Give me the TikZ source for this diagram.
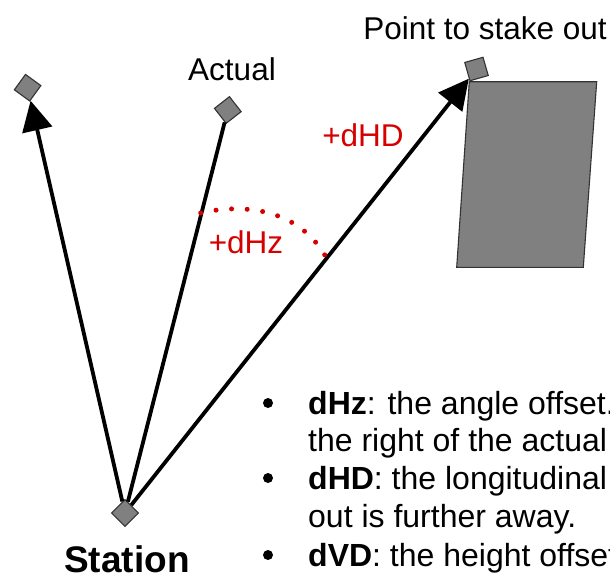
\documentclass[tikz,border=0pt]{standalone}
\usepackage{fontspec}
\setmainfont{Liberation Sans}
\usetikzlibrary{arrows.meta,positioning}
\definecolor{offred}{RGB}{214,0,0}
\definecolor{pegfill}{RGB}{128,128,128}

\begin{document}
\begin{tikzpicture}[x=1pt,y=-1pt]
\useasboundingbox (0,0) rectangle (610,579);
\clip (0,0) rectangle (610,579);
\tikzstyle{peg}=[rectangle, draw=black!80, fill=pegfill, line width=1.1pt, minimum size=19pt, inner sep=0pt]
\tikzstyle{lbl}=[font=\fontsize{31.5}{37}\selectfont, anchor=base, inner sep=0pt]
\tikzstyle{blt}=[font=\fontsize{32}{38}\selectfont, anchor=base west, inner sep=0pt]
\tikzstyle{ray}=[line width=3.8pt]
\tikzstyle{shot}=[-{Triangle[length=30pt,width=30pt]}]
\node[peg, rotate=45] (s) at (125,513) {};
\node[peg, rotate=-36] (l) at (27.6,87.7) {};
\node[peg, rotate=38] (a) at (227.8,110) {};
\node[peg, rotate=16] (p) at (476.5,69) {};
\draw[fill=pegfill, draw=black!80, line width=1.1pt] (469.3,81.7) -- (596.7,81.7) -- (583.3,267.3) -- (456.7,267.3) -- cycle;
\draw[ray, shot] (s) -- (l);
\draw[ray] (s) -- (a);
\draw[ray, shot] (s) -- (p);
\draw[offred, line width=5pt, line cap=round, dash pattern=on 0pt off 15.6pt] (200.7,213) .. controls (235.3,204.7) and (295.7,204) .. (326,257);
\node[lbl] (at) at (232,80) {Actual};
\node[lbl] (pt) at (485,39) {Point to stake out};
\node[lbl, text=offred] (hd) at (363,146) {+dHD};
\node[lbl, text=offred] (hz) at (246,253) {+dHz};
\node[lbl, font=\fontsize{37}{44}\selectfont\bfseries] (st) at (127,572) {Station};
\foreach \y in {403,478,555} \fill (268,\y) circle (5pt);
\node[blt] (b1) at (308,414) {\textbf{dHz}: the angle offset.};
\node[blt] (b2) at (308,451) {the right of the actual};
\node[blt] (b3) at (308,489) {\textbf{dHD}: the longitudinal};
\node[blt] (b4) at (308,527) {out is further away.};
\node[blt] (b5) at (308,566) {\textbf{dVD}: the height offset};
\end{tikzpicture}
\end{document}
